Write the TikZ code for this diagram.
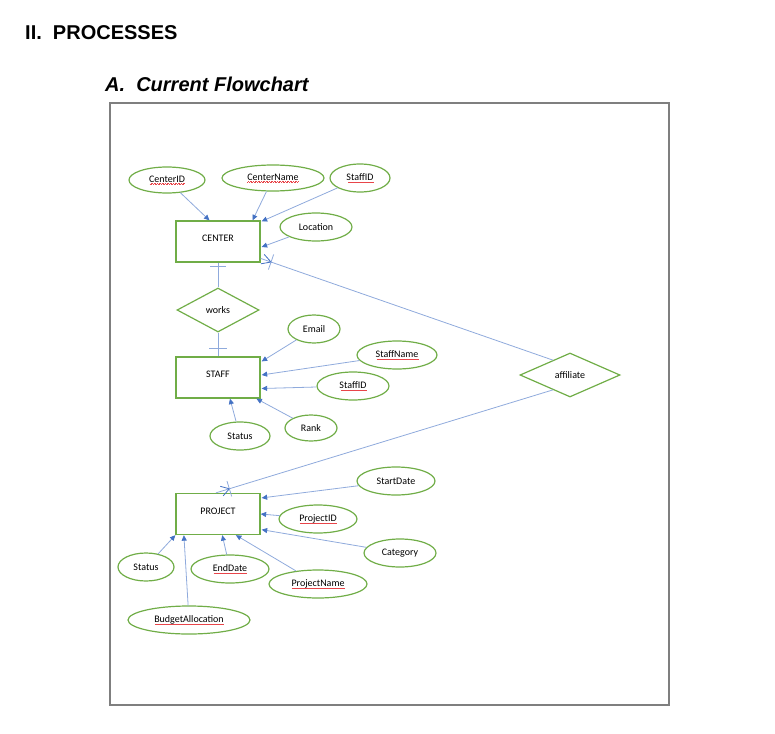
\documentclass[tikz,border=0pt]{standalone}
\usepackage{fontspec}
\setmainfont{Carlito}
\newfontfamily\headfont{Liberation Sans}
\usetikzlibrary{arrows.meta,shapes.geometric,calc}
\definecolor{ergreen}{HTML}{70AD47}
\definecolor{linkblue}{HTML}{8FAADC}
\definecolor{tipblue}{HTML}{4472C4}
\definecolor{framegray}{HTML}{7F7F7F}
\definecolor{spellred}{HTML}{E8454A}
\newsavebox\spellbox
\newcommand\spell[1]{\sbox\spellbox{#1}\usebox\spellbox\llap{\textcolor{spellred}{\leaders\hbox to 1.6pt{\rule[-2.4pt]{0.5pt}{0.45pt}\hskip0.3pt\rule[-1.9pt]{0.5pt}{0.45pt}\hss}\hskip\wd\spellbox}}}
\tikzset{
  lbl/.style={font=\fontsize{10}{12}\selectfont},
  entity/.style={lbl, draw=ergreen, line width=1.3pt, minimum width=84pt, minimum height=41pt, inner sep=0pt, text height=6.5pt, text depth=6pt},
  attr/.style={lbl, ellipse, draw=ergreen, line width=1.2pt, inner sep=0pt},
  rel/.style={lbl, diamond, draw=ergreen, line width=1.2pt, inner sep=0pt},
  link/.style={draw=linkblue, line width=0.8pt},
  attrlink/.style={link, -{Triangle[length=5.5pt,width=5pt,color=tipblue]}},
  foot/.style={draw=tipblue, line width=0.8pt},
  heading/.style={anchor=base west, inner sep=0pt, font=\headfont\bfseries\fontsize{20}{24}\selectfont},
}
\begin{document}
\begin{tikzpicture}[x=1pt,y=-1pt]
\useasboundingbox (0,0) rectangle (775,733);
\node[heading] (h1) at (25,40) {II.\ \ PROCESSES};
\node[heading, font=\headfont\bfseries\itshape\fontsize{20}{24}\selectfont] (h2) at (105,92) {A.\ \ Current Flowchart};
\node[draw=framegray, line width=1.8pt, minimum width=559pt, minimum height=602pt, inner sep=0pt] (frame) at (389.5,404) {};

% CENTER
\node[entity] (center) at (218,241.5) {CENTER};
\node[attr, minimum width=76pt, minimum height=26pt] (cid) at (167,180) {\spell{CenterID}};
\node[attr, minimum width=102pt, minimum height=26pt] (cname) at (273,178) {\spell{CenterName}};
\node[attr, minimum width=60pt, minimum height=28pt] (csid) at (360,178) {\spell{StaffID}};
\node[attr, minimum width=72pt, minimum height=28pt] (loc) at (316,227) {Location};

% works
\node[rel, minimum width=82pt, minimum height=44pt] (works) at (218,310) {works};

% STAFF
\node[entity] (staff) at (218,377.5) {STAFF};
\node[attr, minimum width=52pt, minimum height=28pt] (email) at (314,329) {Email};
\node[attr, minimum width=80pt, minimum height=28pt] (sname) at (397,355) {\spell{StaffName}};
\node[attr, minimum width=72pt, minimum height=28pt] (ssid) at (353,386) {\spell{StaffID}};
\node[attr, minimum width=60pt, minimum height=28pt] (sstatus) at (240,436) {Status};
\node[attr, minimum width=52pt, minimum height=26pt] (rank) at (311,428) {Rank};

% affiliate
\node[rel, minimum width=100pt, minimum height=44pt] (aff) at (570,375) {affiliate};

% PROJECT
\node[entity] (project) at (218,514) {PROJECT};
\node[attr, minimum width=78pt, minimum height=28pt] (sdate) at (396,481) {StartDate};
\node[attr, minimum width=78pt, minimum height=28pt] (pid) at (318,519) {\spell{ProjectID}};
\node[attr, minimum width=72pt, minimum height=28pt] (cat) at (400,553) {Category};
\node[attr, minimum width=56pt, minimum height=28pt] (pstatus) at (146,567) {Status};
\node[attr, minimum width=78pt, minimum height=28pt] (edate) at (230,569) {\spell{EndDate}};
\node[attr, minimum width=98pt, minimum height=28pt] (pname) at (318,584) {\spell{ProjectName}};
\node[attr, minimum width=122pt, minimum height=28pt] (budget) at (189,620) {\spell{BudgetAllocation}};

% attribute arrows: CENTER
\draw[attrlink] (cid) -- ($(center.north west)!0.40!(center.north east)$);
\draw[attrlink] (cname) -- ($(center.north west)!0.905!(center.north east)$);
\draw[attrlink] (csid) -- ($(center.north east)+(1,1)$);
\draw[attrlink] (loc) -- ($(center.north east)!0.63!(center.south east)+(1,0)$);

% attribute arrows: STAFF
\draw[attrlink] (email) -- ($(staff.north east)!0.12!(staff.south east)+(1,0)$);
\draw[attrlink] (sname) -- ($(staff.north east)!0.44!(staff.south east)+(1,0)$);
\draw[attrlink] (ssid) -- ($(staff.north east)!0.76!(staff.south east)+(1,0)$);
\draw[attrlink] (rank) -- ($(staff.south west)!0.95!(staff.south east)$);
\draw[attrlink] (sstatus) -- ($(staff.south west)!0.64!(staff.south east)$);

% attribute arrows: PROJECT
\draw[attrlink] (sdate) -- ($(project.north east)!0.12!(project.south east)+(1,0)$);
\draw[attrlink] (pid) -- ($(project.north east)!0.5!(project.south east)$);
\draw[attrlink] (cat) -- ($(project.north east)!0.87!(project.south east)+(1,0)$);
\draw[attrlink] (pstatus) -- (project.south west);
\draw[attrlink] (budget) -- ($(project.south west)!0.10!(project.south east)$);
\draw[attrlink] (edate) -- ($(project.south west)!0.55!(project.south east)$);
\draw[attrlink] (pname) -- ($(project.south west)!0.71!(project.south east)$);

% works relationship
\draw[link] (center.south) -- (works.north);
\draw[link] ($(center.south)+(-8,4)$) -- ($(center.south)+(8,4)$);
\draw[link] (works.south) -- (staff.north);
\draw[link] ($(staff.north)+(-9,-8)$) -- ($(staff.north)+(9,-8)$);

% affiliate relationship
\coordinate (A1) at ($(aff.west)!0.66!(aff.north)$);
\coordinate (E1) at ($(center.north east)!0.90!(center.south east)$);
\draw[link] (A1) -- (E1);
\coordinate (T1) at ($(E1)!2pt!(A1)$);
\coordinate (C1) at ($(E1)!11pt!(A1)$);
\draw[foot] ($(T1)!5pt!90:(A1)$) -- (C1) -- ($(T1)!5pt!-90:(A1)$);
\draw[link] ($(C1)!8pt!90:(A1)$) -- ($(C1)!8pt!-90:(A1)$);

\coordinate (A2) at ($(aff.west)!0.66!(aff.south)$);
\coordinate (E2) at ($(project.north west)!0.476!(project.north east)$);
\draw[link] (A2) -- (E2);
\coordinate (T2) at ($(E2)!6pt!(A2)$);
\coordinate (C2) at ($(E2)!14pt!(A2)$);
\draw[foot] ($(T2)!5pt!90:(A2)$) -- (C2) -- ($(T2)!5pt!-90:(A2)$);
\draw[link] ($(C2)!8pt!90:(A2)$) -- ($(C2)!8pt!-90:(A2)$);
\end{tikzpicture}
\end{document}
